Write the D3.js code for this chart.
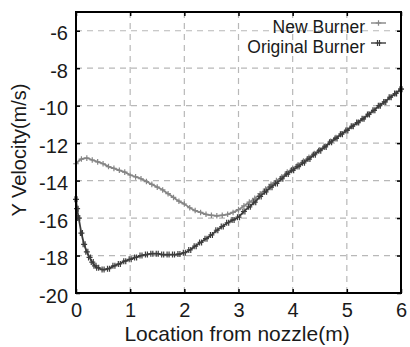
<!DOCTYPE html>
<html><head><meta charset="utf-8">
<script src="https://cdn.jsdelivr.net/npm/d3@7"></script>
<style>
html,body{margin:0;padding:0;background:#fff;}
svg{display:block;font-family:"Liberation Sans",Arial,sans-serif;}
</style></head>
<body>
<svg id="chart" width="410" height="347"></svg>
<script>
const xTicks = [0, 1, 2, 3, 4, 5, 6];
const yTicks = [-20, -18, -16, -14, -12, -10, -8, -6];
const seriesNames = ["New Burner", "Original Burner"];

const newX = [0.0,0.1,0.2,0.3,0.4,0.5,0.6,0.7,0.8,0.9,1.0,1.1,1.2,1.3,1.4,1.5,1.6,1.7,1.8,1.9,2.0,2.1,2.2,2.3,2.4,2.5,2.6,2.7,2.8,2.9,3.0,3.1,3.2,3.3,3.4,3.5,3.6,3.7,3.8,3.9,4.0,4.1,4.2,4.3,4.4,4.5,4.6,4.7,4.8,4.9,5.0,5.1,5.2,5.3,5.4,5.5,5.6,5.7,5.8,5.9,6.0];
const newY = [-13.1,-12.85,-12.8,-12.9,-13.0,-13.1,-13.25,-13.35,-13.45,-13.55,-13.7,-13.8,-13.9,-14.05,-14.2,-14.35,-14.5,-14.7,-14.9,-15.1,-15.25,-15.45,-15.6,-15.7,-15.8,-15.85,-15.88,-15.85,-15.8,-15.7,-15.55,-15.35,-15.15,-14.95,-14.7,-14.45,-14.2,-14.0,-13.8,-13.55,-13.35,-13.15,-12.95,-12.75,-12.55,-12.35,-12.15,-11.9,-11.7,-11.5,-11.3,-11.1,-10.9,-10.7,-10.45,-10.25,-10.0,-9.8,-9.55,-9.35,-9.1];

const origX = [0.0,0.02,0.05,0.1,0.15,0.2,0.25,0.3,0.35,0.4,0.5,0.6,0.7,0.8,0.9,1.0,1.1,1.2,1.3,1.4,1.5,1.6,1.7,1.8,1.9,2.0,2.1,2.2,2.3,2.4,2.5,2.6,2.7,2.8,2.9,3.0,3.1,3.2,3.3,3.4,3.5,3.6,3.7,3.8,3.9,4.0,4.1,4.2,4.3,4.4,4.5,4.6,4.7,4.8,4.9,5.0,5.1,5.2,5.3,5.4,5.5,5.6,5.7,5.8,5.9,6.0];
const origY = [-15.0,-15.5,-16.0,-16.8,-17.4,-17.8,-18.1,-18.35,-18.55,-18.65,-18.75,-18.7,-18.55,-18.45,-18.3,-18.2,-18.1,-18.0,-17.95,-17.9,-17.9,-17.95,-17.95,-17.95,-17.92,-17.85,-17.7,-17.5,-17.3,-17.1,-16.9,-16.65,-16.45,-16.25,-16.1,-15.95,-15.65,-15.4,-15.15,-14.85,-14.6,-14.35,-14.15,-13.9,-13.65,-13.45,-13.25,-13.05,-12.85,-12.62,-12.4,-12.2,-11.95,-11.75,-11.52,-11.32,-11.1,-10.9,-10.7,-10.47,-10.25,-10.0,-9.8,-9.55,-9.35,-9.12];

const svg = d3.select("#chart");
const L = 76, R = 401, T = 12, B = 293;
const x = d3.scaleLinear().domain([0, 6]).range([L, R]);
const y = d3.scaleLinear().domain([-20, -5]).range([B, T]);

// grid
const g = svg.append("g");
g.selectAll("line.gx").data(xTicks.slice(1, -1)).join("line")
  .attr("x1", d => x(d)).attr("x2", d => x(d)).attr("y1", T).attr("y2", B)
  .attr("stroke", "#b8b8b8").attr("stroke-width", 1.2).attr("stroke-dasharray", "6,5");
g.selectAll("line.gy").data(yTicks.slice(1)).join("line")
  .attr("y1", d => y(d)).attr("y2", d => y(d)).attr("x1", L).attr("x2", R)
  .attr("stroke", "#b8b8b8").attr("stroke-width", 1.2).attr("stroke-dasharray", "6,5");

// axes (inner ticks)
const ax = svg.append("g");
ax.append("g").attr("transform", `translate(0,${B})`)
  .call(d3.axisBottom(x).tickValues(xTicks).tickSize(-4).tickPadding(10).tickFormat(d3.format("d")))
  .call(s => { s.select(".domain").remove(); s.selectAll("text").attr("font-size", 20).attr("fill", "#1a1a1a").attr("dy", "0.71em"); });
ax.append("g").attr("transform", `translate(0,${T})`)
  .call(d3.axisTop(x).tickValues(xTicks).tickSize(-4).tickFormat(""))
  .call(s => s.select(".domain").remove());
ax.append("g").attr("transform", `translate(${L},0)`)
  .call(d3.axisLeft(y).tickValues(yTicks).tickSize(-4).tickPadding(8).tickFormat(d => String(d)))
  .call(s => { s.select(".domain").remove(); s.selectAll("text").attr("font-size", 20).attr("fill", "#1a1a1a").attr("dy", "0.45em"); });
ax.append("g").attr("transform", `translate(${R},0)`)
  .call(d3.axisRight(y).tickValues(yTicks).tickSize(-4).tickFormat(""))
  .call(s => s.select(".domain").remove());
ax.selectAll(".tick line").attr("stroke", "#000").attr("stroke-width", 1.5);

// series
const plusPath = "M-2.8,0H2.8M0,-2.8V2.8";
const dblPath = "M-3,0H3M-1,-3V3M1,-3V3";
function drawSeries(xs, ys, color, mk) {
  const pts = xs.map((v, i) => [v, ys[i]]);
  svg.append("path").datum(pts)
    .attr("d", d3.line().x(d => x(d[0])).y(d => y(d[1])).curve(d3.curveMonotoneX))
    .attr("fill", "none").attr("stroke", color).attr("stroke-width", 1.8);
  svg.append("g").selectAll("path").data(pts).join("path")
    .attr("transform", d => `translate(${x(d[0])},${y(d[1])})`)
    .attr("d", mk).attr("stroke", color).attr("stroke-width", 1.2).attr("fill", "none");
}
drawSeries(newX, newY, "#868686", plusPath);
drawSeries(origX, origY, "#3c3c3c", dblPath);

// frame
svg.append("rect").attr("x", L).attr("y", T).attr("width", R - L).attr("height", B - T)
  .attr("fill", "none").attr("stroke", "#000").attr("stroke-width", 2);

// legend
const leg = svg.append("g");
const legY = [33, 53];
const legCol = ["#868686", "#3c3c3c"];
const legMk = [plusPath, dblPath];
seriesNames.forEach((n, i) => {
  leg.append("text").attr("x", 365).attr("y", legY[i]).attr("text-anchor", "end")
    .attr("font-size", 17.5).attr("fill", "#1a1a1a").text(n);
  leg.append("line").attr("x1", 371).attr("x2", 386).attr("y1", legY[i] - 10).attr("y2", legY[i] - 10)
    .attr("stroke", legCol[i]).attr("stroke-width", 1.4);
  leg.append("path").attr("transform", `translate(378.5,${legY[i] - 10})`).attr("d", legMk[i])
    .attr("stroke", legCol[i]).attr("stroke-width", 1.2).attr("fill", "none");
});

// axis titles
svg.append("text").attr("x", 237).attr("y", 341).attr("text-anchor", "middle")
  .attr("font-size", 21).attr("fill", "#1a1a1a").text("Location from nozzle(m)");
svg.append("text").attr("transform", "translate(26,150) rotate(-90)").attr("text-anchor", "middle")
  .attr("font-size", 20).attr("fill", "#1a1a1a").text("Y Velocity(m/s)");
</script>
</body></html>
